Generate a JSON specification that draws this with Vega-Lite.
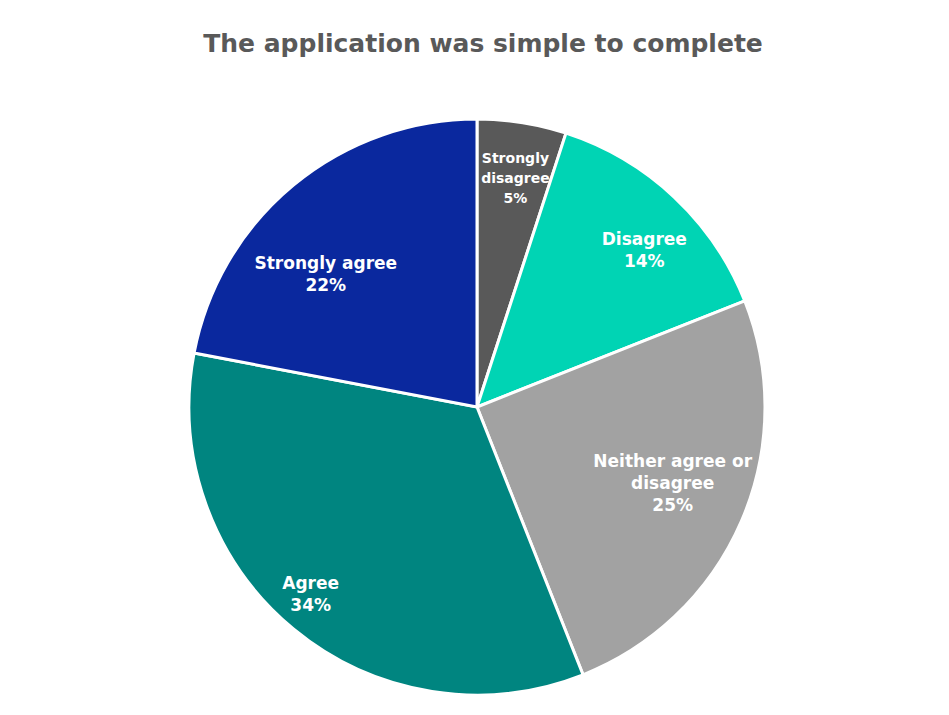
{
  "$schema": "https://vega.github.io/schema/vega-lite/v6.json",
  "autosize": "none",
  "width": 944,
  "height": 614,
  "padding": {"left": 5, "top": 100, "right": 0, "bottom": 1},
  "background": "white",
  "view": {"stroke": null},
  "title": {
    "text": "The application was simple to complete",
    "font": "DejaVu Sans",
    "fontSize": 25,
    "fontWeight": "bold",
    "color": "#595959",
    "anchor": "middle",
    "offset": 43,
    "dx": 6
  },
  "data": {
    "values": [
      {"category": "Strongly disagree", "value": 5, "order": 1, "label": "Strongly\ndisagree\n5%"},
      {"category": "Disagree", "value": 14, "order": 2, "label": "Disagree\n14%"},
      {"category": "Neither agree or disagree", "value": 25, "order": 3, "label": "Neither agree or\ndisagree\n25%"},
      {"category": "Agree", "value": 34, "order": 4, "label": "Agree\n34%"},
      {"category": "Strongly agree", "value": 22, "order": 5, "label": "Strongly agree\n22%"}
    ]
  },
  "encoding": {
    "theta": {"field": "value", "type": "quantitative", "stack": true},
    "order": {"field": "order", "type": "quantitative"}
  },
  "layer": [
    {
      "mark": {"type": "arc", "outerRadius": 288, "stroke": "white", "strokeWidth": 3},
      "encoding": {
        "color": {
          "field": "category",
          "type": "nominal",
          "legend": null,
          "scale": {
            "domain": ["Strongly disagree", "Disagree", "Neither agree or disagree", "Agree", "Strongly agree"],
            "range": ["#595959", "#00D4B4", "#A2A2A2", "#008580", "#0A289E"]
          }
        }
      }
    },
    {
      "mark": {"type": "text", "radius": 233, "dx": 2, "dy": -18, "font": "DejaVu Sans", "fontWeight": "bold", "fontSize": 14, "lineHeight": 20, "lineBreak": "\n", "color": "white", "align": "center", "baseline": "middle"},
      "encoding": {"text": {"condition": {"test": "datum.category === 'Strongly disagree'", "field": "label"}, "value": ""}}
    },
    {
      "mark": {"type": "text", "radius": 221, "dx": 16, "dy": -6, "font": "DejaVu Sans", "fontWeight": "bold", "fontSize": 17, "lineHeight": 22, "lineBreak": "\n", "color": "white", "align": "center", "baseline": "middle"},
      "encoding": {"text": {"condition": {"test": "datum.category === 'Disagree'", "field": "label"}, "value": ""}}
    },
    {
      "mark": {"type": "text", "radius": 174, "dx": 36, "dy": -14, "font": "DejaVu Sans", "fontWeight": "bold", "fontSize": 17, "lineHeight": 22, "lineBreak": "\n", "color": "white", "align": "center", "baseline": "middle"},
      "encoding": {"text": {"condition": {"test": "datum.category === 'Neither agree or disagree'", "field": "label"}, "value": ""}}
    },
    {
      "mark": {"type": "text", "radius": 250, "dx": -7, "dy": -16, "font": "DejaVu Sans", "fontWeight": "bold", "fontSize": 17, "lineHeight": 22, "lineBreak": "\n", "color": "white", "align": "center", "baseline": "middle"},
      "encoding": {"text": {"condition": {"test": "datum.category === 'Agree'", "field": "label"}, "value": ""}}
    },
    {
      "mark": {"type": "text", "radius": 198, "dx": -25, "dy": 10, "font": "DejaVu Sans", "fontWeight": "bold", "fontSize": 17, "lineHeight": 22, "lineBreak": "\n", "color": "white", "align": "center", "baseline": "middle"},
      "encoding": {"text": {"condition": {"test": "datum.category === 'Strongly agree'", "field": "label"}, "value": ""}}
    }
  ]
}
